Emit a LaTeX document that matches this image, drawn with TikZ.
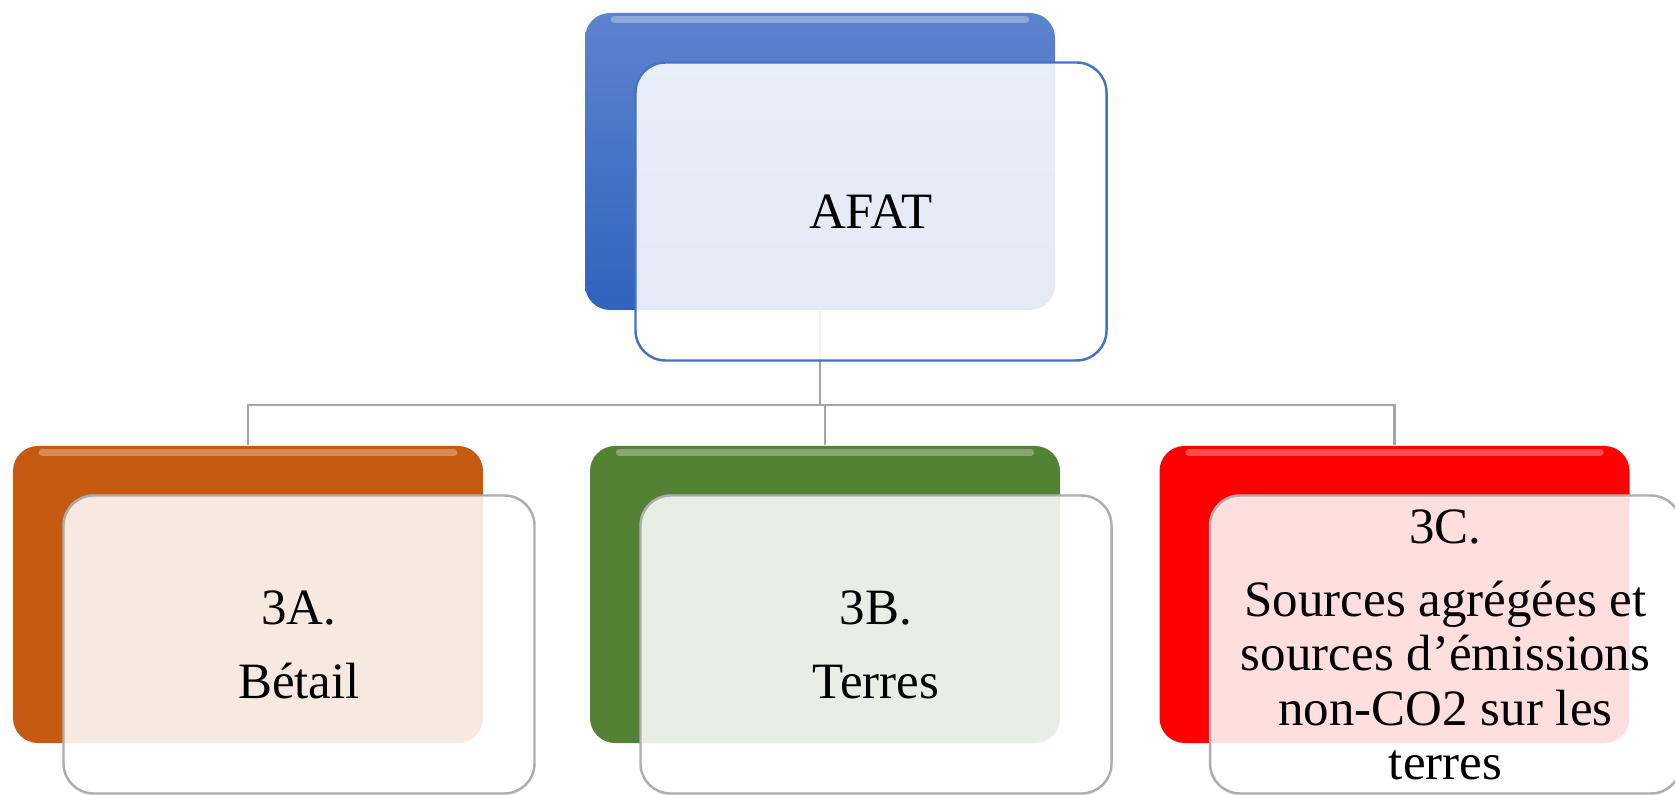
\documentclass[tikz,border=0pt]{standalone}
\usepackage{fontspec}
\setmainfont{Liberation Serif}
\usepackage{tikz}
\usetikzlibrary{calc}
\tikzset{>=latex}

\definecolor{afattop}{HTML}{5E83CE}
\definecolor{afatbot}{HTML}{3063BE}
\definecolor{afatblue}{HTML}{4472C4}
\definecolor{betail}{HTML}{C55A11}
\definecolor{terres}{HTML}{548235}
\definecolor{sources}{HTML}{FF0000}
\definecolor{linegrey}{HTML}{A5A5A5}
\definecolor{boxgrey}{HTML}{ADADAD}

\tikzset{
	back/.style={rounded corners=0.25cm, minimum width=4.7cm, minimum height=2.97cm, inner sep=0pt},
	front/.style={rounded corners=0.3cm, minimum width=4.71cm, minimum height=2.98cm, inner sep=0pt, fill=white, fill opacity=0.87, draw=boxgrey, line width=0.7pt},
	shine/.style={white, opacity=0.3, line width=2pt, line cap=round},
	lbl/.style={align=center, font=\fontsize{14.5}{15.4}\selectfont},
	conn/.style={draw=linegrey, line width=0.6pt}
}

\begin{document}
\begin{tikzpicture}

\def\ox{0.51}
\def\oy{-0.50}

\useasboundingbox (0,0) rectangle (16.75,-7.95);

% Back boxes
\node[back, top color=afattop, bottom color=afatbot] (b0) at (8.20,-1.615){};
\node[back, fill=betail] (b1) at (2.48,-5.945){};
\node[back, fill=terres] (b2) at (8.25,-5.945){};
\node[back, fill=sources] (b3) at (13.945,-5.945){};

% Gloss on top edge
\foreach \i in {0,1,2,3}{
	\draw[shine] ($(b\i.north west)+(0.3,-0.07)$) -- ($(b\i.north east)+(-0.3,-0.07)$);
}

% Connectors
\coordinate (bus) at ($(b0.south)+(0,-0.94)$);
\draw[conn] (b0.south) -- (bus);
\foreach \i in {1,2,3}{
	\draw[conn] (bus) -| (b\i.north);
}

% Front boxes
\node[front, draw=afatblue] (f0) at ($(b0)+(\ox,\oy)$){};
\foreach \i in {1,2,3}{
	\node[front] (f\i) at ($(b\i)+(\ox,\oy)$){};
}

% Texts
\node[lbl] (t0) at (f0){AFAT};
\node[lbl] (t1) at (f1){3A.\\[5.6pt] Bétail};
\node[lbl] (t2) at (f2){3B.\\[5.6pt] Terres};
\node[lbl] (t3) at (f3){3C.\\[5.6pt] Sources agrégées et\\ sources d’émissions\\ non-CO2 sur les\\ terres};

\end{tikzpicture}
\end{document}
